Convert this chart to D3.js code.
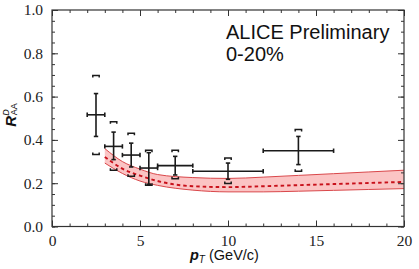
<!DOCTYPE html>
<html><head><meta charset="utf-8">
<script src="https://cdn.jsdelivr.net/npm/d3@7"></script>
<style>body{margin:0;background:#fff}svg{display:block}</style>
</head><body>
<svg id="c" width="419" height="269"></svg>
<script>
// data
const ptCenter = [2.5, 3.5, 4.5, 5.5, 7, 10, 14];
const ptLow    = [2, 3, 4, 5, 6, 8, 12];
const ptHigh   = [3, 4, 5, 6, 8, 12, 16];
const raa      = [0.516, 0.370, 0.330, 0.270, 0.281, 0.255, 0.350];
const statLow  = [0.416, 0.309, 0.275, 0.195, 0.238, 0.218, 0.286];
const statHigh = [0.614, 0.436, 0.385, 0.341, 0.324, 0.293, 0.416];
const systLow  = [0.332, 0.260, 0.232, 0.190, 0.220, 0.199, 0.255];
const systHigh = [0.698, 0.484, 0.431, 0.352, 0.352, 0.316, 0.448];
const modelPt    = [3, 4, 5, 6, 8, 10, 12, 14, 16, 18, 20];
const modelUpper = [0.360, 0.300, 0.265, 0.240, 0.226, 0.222, 0.228, 0.236, 0.244, 0.252, 0.260];
const modelLower = [0.293, 0.245, 0.210, 0.190, 0.168, 0.160, 0.160, 0.163, 0.167, 0.171, 0.175];
const modelMid   = [0.321, 0.267, 0.235, 0.210, 0.186, 0.182, 0.186, 0.191, 0.196, 0.201, 0.206];
const xTicks = [0, 5, 10, 15, 20];
const yTicks = [0.0, 0.2, 0.4, 0.6, 0.8, 1.0];

const svg = d3.select("#c");
const L = 52, R = 404, T = 10, B = 226.5;
const x = d3.scaleLinear().domain([0, 20]).range([L, R]);
const y = d3.scaleLinear().domain([0, 1]).range([B, T]);

svg.append("clipPath").attr("id","clip").append("rect")
  .attr("x",L).attr("y",T).attr("width",R-L).attr("height",B-T);

// model band
const band = svg.append("g").attr("clip-path","url(#clip)");
const idx = d3.range(modelPt.length);
band.append("path")
  .attr("d", d3.area().x(i=>x(modelPt[i])).y0(i=>y(modelLower[i])).y1(i=>y(modelUpper[i])).curve(d3.curveMonotoneX)(idx))
  .attr("fill","#fbc4c4");
const ln = arr => d3.line().x(i=>x(modelPt[i])).y(i=>y(arr[i])).curve(d3.curveMonotoneX)(idx);
band.append("path").attr("d", ln(modelUpper)).attr("fill","none").attr("stroke","#d9474a").attr("stroke-width",1);
band.append("path").attr("d", ln(modelLower)).attr("fill","none").attr("stroke","#d9474a").attr("stroke-width",1);
band.append("path").attr("d", ln(modelMid)).attr("fill","none").attr("stroke","#c8101a").attr("stroke-width",1.9).attr("stroke-dasharray","3.5,3");

// frame axes
const axG = svg.append("g");
function styleAxis(g){
  g.select(".domain").remove();
  g.selectAll("line").attr("stroke","#333").attr("stroke-width",1);
  g.selectAll("text").attr("font-family","'Liberation Serif','Times New Roman',serif").attr("font-size",15.5).attr("fill","#222");
}
const xMinor = d3.range(0, 20.01, 1);
const yMinor = d3.range(0, 1.001, 0.05);
// bottom
axG.append("g").attr("transform",`translate(0,${B})`)
  .call(d3.axisBottom(x).tickValues(xMinor).tickSize(-3).tickFormat("")).call(styleAxis);
axG.append("g").attr("transform",`translate(0,${B})`)
  .call(d3.axisBottom(x).tickValues(xTicks).tickSize(-6).tickPadding(8).tickFormat(d3.format("d"))).call(styleAxis);
// top
axG.append("g").attr("transform",`translate(0,${T})`)
  .call(d3.axisTop(x).tickValues(xMinor).tickSize(-3).tickFormat("")).call(styleAxis);
axG.append("g").attr("transform",`translate(0,${T})`)
  .call(d3.axisTop(x).tickValues(xTicks).tickSize(-6).tickFormat("")).call(styleAxis);
// left
axG.append("g").attr("transform",`translate(${L},0)`)
  .call(d3.axisLeft(y).tickValues(yMinor).tickSize(-3).tickFormat("")).call(styleAxis);
axG.append("g").attr("transform",`translate(${L},0)`)
  .call(d3.axisLeft(y).tickValues(yTicks).tickSize(-6).tickPadding(9).tickFormat(d3.format(".1f"))).call(styleAxis);
// right
axG.append("g").attr("transform",`translate(${R},0)`)
  .call(d3.axisRight(y).tickValues(yMinor).tickSize(-3).tickFormat("")).call(styleAxis);
axG.append("g").attr("transform",`translate(${R},0)`)
  .call(d3.axisRight(y).tickValues(yTicks).tickSize(-6).tickFormat("")).call(styleAxis);
svg.append("rect").attr("x",L).attr("y",T).attr("width",R-L).attr("height",B-T)
  .attr("fill","none").attr("stroke","#333").attr("stroke-width",1.2);

// data points
const pg = svg.append("g").attr("stroke","#1a1a1a").attr("fill","none");
ptCenter.forEach((c,i)=>{
  const cx = x(c), cy = y(raa[i]);
  const cap = 2.2;
  pg.append("line").attr("x1",cx).attr("x2",cx).attr("y1",y(statLow[i])).attr("y2",y(statHigh[i])).attr("stroke-width",1.6);
  pg.append("line").attr("x1",cx-cap).attr("x2",cx+cap).attr("y1",y(statLow[i])).attr("y2",y(statLow[i])).attr("stroke-width",1.6);
  pg.append("line").attr("x1",cx-cap).attr("x2",cx+cap).attr("y1",y(statHigh[i])).attr("y2",y(statHigh[i])).attr("stroke-width",1.6);
  pg.append("line").attr("x1",x(ptLow[i])).attr("x2",x(ptHigh[i])).attr("y1",cy).attr("y2",cy).attr("stroke-width",1.6);
  pg.append("line").attr("x1",x(ptLow[i])).attr("x2",x(ptLow[i])).attr("y1",cy-cap).attr("y2",cy+cap).attr("stroke-width",1.6);
  pg.append("line").attr("x1",x(ptHigh[i])).attr("x2",x(ptHigh[i])).attr("y1",cy-cap).attr("y2",cy+cap).attr("stroke-width",1.6);
  const w = 3.2, h = 2;
  const yh = y(systHigh[i]), yl = y(systLow[i]);
  pg.append("path").attr("d",`M${cx-w},${yh+h}V${yh}H${cx+w}V${yh+h}`).attr("stroke-width",1.5);
  pg.append("path").attr("d",`M${cx-w},${yl-h}V${yl}H${cx+w}V${yl-h}`).attr("stroke-width",1.5);
});

// texts
const sans = "'Liberation Sans',Arial,sans-serif";
svg.append("text").attr("x",226).attr("y",39).attr("font-family",sans).attr("font-size",20).attr("fill","#111").text("ALICE Preliminary");
svg.append("text").attr("x",226).attr("y",61).attr("font-family",sans).attr("font-size",20).attr("fill","#111").text("0-20%");

const xt = svg.append("text").attr("x",190).attr("y",260).attr("font-family",sans).attr("font-size",14.5).attr("fill","#111");
xt.append("tspan").attr("font-style","italic").attr("font-weight","bold").text("p");
xt.append("tspan").attr("font-style","italic").attr("font-size",10).attr("dy",3).text("T");
xt.append("tspan").attr("dy",-3).text(" (GeV/c)");

const yt = svg.append("text").attr("transform","translate(16,115) rotate(-90)").attr("text-anchor","middle")
  .attr("font-family",sans).attr("font-size",15).attr("fill","#111");
yt.append("tspan").attr("font-style","italic").attr("font-weight","bold").text("R");
yt.append("tspan").attr("font-style","italic").attr("font-size",9).attr("dy",-7).text("D");
yt.append("tspan").attr("font-size",9).attr("dx",-6).attr("dy",8).text("AA");
</script>
</body></html>
